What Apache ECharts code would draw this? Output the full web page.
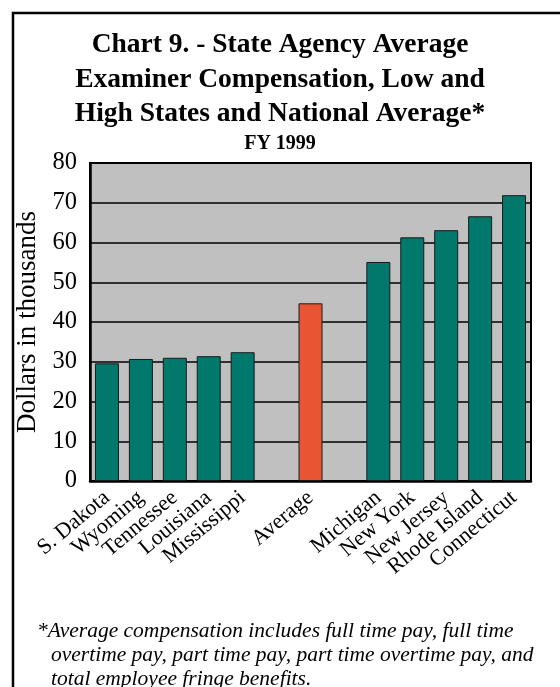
<!DOCTYPE html>
<html>
<head>
<meta charset="utf-8">
<script src="https://cdn.jsdelivr.net/npm/echarts@6/dist/echarts.min.js"></script>
<style>
html,body{margin:0;padding:0;background:#fff;}
#chart{width:560px;height:687px;}
</style>
</head>
<body>
<div id="chart"></div>
<script>
const titleLines = ['Chart 9. - State Agency Average', 'Examiner Compensation, Low and', 'High States and National Average*'];
const subtitle = 'FY 1999';
const categories = ['S. Dakota', 'Wyoming', 'Tennessee', 'Louisiana', 'Mississippi', '', 'Average', '', 'Michigan', 'New York', 'New Jersey', 'Rhode Island', 'Connecticut'];
const values = [29.6, 30.7, 31.0, 31.4, 32.4, null, 44.7, null, 55.1, 61.3, 63.1, 66.6, 71.9];
const highlightCategory = 'Average';
const yAxisName = 'Dollars in thousands';
const footnoteLines = [
  '*Average compensation includes full time pay, full time',
  'overtime pay, part time pay, part time overtime pay, and',
  'total employee fringe benefits.'
];

const serif = "'Liberation Serif', 'DejaVu Serif', serif";
const teal = '#00786C';
const orange = '#E85533';

const chart = echarts.init(document.getElementById('chart'), null, {renderer: 'canvas'});
chart.setOption({
  backgroundColor: '#ffffff',
  animation: false,
  title: {
    text: titleLines.join('\n'),
    subtext: subtitle,
    left: 'center',
    top: 28,
    itemGap: 0,
    padding: 0,
    textStyle: {fontFamily: serif, fontSize: 27.5, fontWeight: 'bold', color: '#000', lineHeight: 34.5},
    subtextStyle: {fontFamily: serif, fontSize: 20, fontWeight: 'bold', color: '#000', lineHeight: 24}
  },
  grid: {
    left: 90, right: 29, top: 163, bottom: 206,
    show: true, backgroundColor: '#C0C0C0', borderColor: '#000', borderWidth: 2
  },
  xAxis: {
    type: 'category',
    data: categories,
    axisTick: {show: false},
    axisLine: {show: true, lineStyle: {color: '#000', width: 2.5}},
    axisLabel: {rotate: 40, interval: 0, margin: 14, fontFamily: serif, fontSize: 22, color: '#000'}
  },
  yAxis: {
    type: 'value',
    min: 0, max: 80, interval: 10,
    name: yAxisName,
    nameLocation: 'middle',
    nameGap: 41,
    nameTextStyle: {fontFamily: serif, fontSize: 27, color: '#000'},
    axisLine: {show: true, lineStyle: {color: '#000', width: 2.5}},
    axisTick: {show: false},
    axisLabel: {fontFamily: serif, fontSize: 24.5, color: '#000', margin: 13, padding: [0, 0, 6, 0]},
    splitLine: {show: true, lineStyle: {color: '#000', width: 1.5}}
  },
  series: [{
    type: 'bar',
    data: values,
    barWidth: 24,
    itemStyle: {
      color: function (p) { return categories[p.dataIndex] === highlightCategory ? orange : teal; },
      borderColor: '#1a1a1a',
      borderWidth: 1
    }
  }],
  graphic: [
    {type: 'rect', left: 10.5, top: 10.5, shape: {width: 700, height: 800}, style: {fill: 'none', stroke: '#000', lineWidth: 2.5}, z: -1},
    {type: 'text', left: 37, top: 620, style: {text: footnoteLines[0], font: "italic 21.5px 'Liberation Serif'", fill: '#000'}},
    {type: 'text', left: 51, top: 644, style: {text: footnoteLines[1], font: "italic 21.5px 'Liberation Serif'", fill: '#000'}},
    {type: 'text', left: 51, top: 668, style: {text: footnoteLines[2], font: "italic 21.5px 'Liberation Serif'", fill: '#000'}}
  ]
});
</script>
</body>
</html>
